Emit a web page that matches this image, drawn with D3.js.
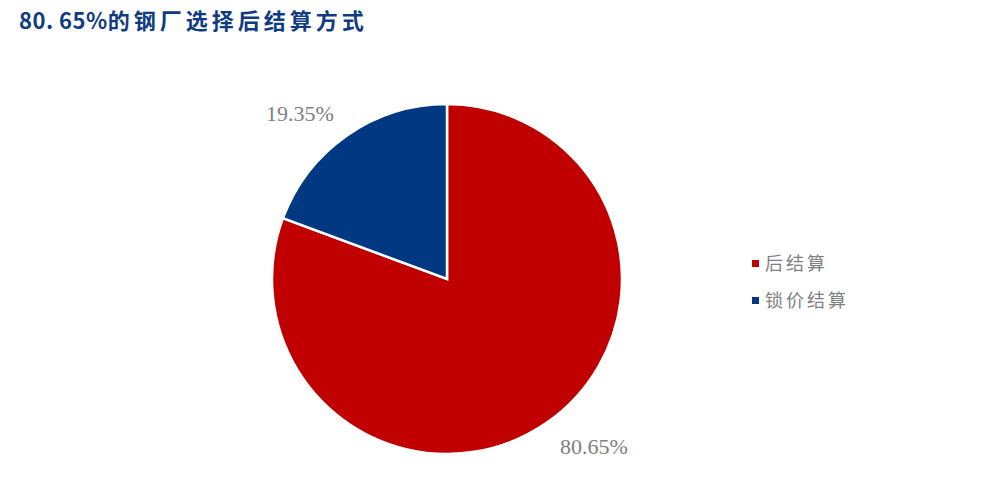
<!DOCTYPE html>
<html>
<head>
<meta charset="utf-8">
<script src="https://cdn.jsdelivr.net/npm/d3@7"></script>
<style>
  body { margin: 0; background: #fff; }
  svg { display: block; }
</style>
</head>
<body>
<svg width="989" height="498"></svg>
<script>
// data
const categories = ["后结算", "锁价结算"];
const values = [80.65, 19.35];
const colors = ["#C00000", "#003882"];
const titleHead = "80. 65%";
const titleTail = "的钢厂选择后结算方式";

const svg = d3.select("svg");
const cx = 447, cy = 279, r = 175;

const t = svg.append("text")
  .attr("x", 19).attr("y", 29)
  .attr("fill", "#0F3B82")
  .attr("font-family", "'Noto Sans CJK SC', sans-serif")
  .attr("font-weight", "bold")
  .attr("font-size", 22);
t.append("tspan").attr("letter-spacing", 0.5).text(titleHead);
t.append("tspan").attr("letter-spacing", 4).text(titleTail);

const data = categories.map((c, i) => ({ name: c, value: values[i], color: colors[i] }));
const pie = d3.pie().value(d => d.value).sort(null);
const arc = d3.arc().innerRadius(0).outerRadius(r);

const g = svg.append("g").attr("transform", `translate(${cx},${cy})`);
const arcs = pie(data);

g.selectAll("path")
  .data(arcs)
  .enter()
  .append("path")
  .attr("d", arc)
  .attr("fill", d => d.data.color)
  .attr("stroke", "#fff")
  .attr("stroke-width", 2.5);

// outside labels
const labelPos = [[147, 175], [-147, -158]];
g.selectAll("text.lbl")
  .data(arcs)
  .enter()
  .append("text")
  .attr("class", "lbl")
  .attr("x", (d, i) => labelPos[i][0])
  .attr("y", (d, i) => labelPos[i][1])
  .attr("text-anchor", "middle")
  .attr("fill", "#7F7F7F")
  .attr("font-family", "'Liberation Serif', serif")
  .attr("font-size", 22)
  .text(d => d.data.value.toFixed(2) + "%");

// legend
const legend = svg.append("g").attr("transform", "translate(752,263)");
const item = legend.selectAll("g")
  .data(data)
  .enter()
  .append("g")
  .attr("transform", (d, i) => `translate(0,${i * 37})`);
item.append("rect")
  .attr("x", 0).attr("y", -3)
  .attr("width", 7).attr("height", 7)
  .attr("fill", d => d.color);
item.append("text")
  .attr("x", 13).attr("y", 7)
  .attr("fill", "#7F7F7F")
  .attr("font-family", "'Noto Sans CJK SC', sans-serif")
  .attr("font-size", 18)
  .attr("letter-spacing", 3)
  .text(d => d.name);
</script>
</body>
</html>
